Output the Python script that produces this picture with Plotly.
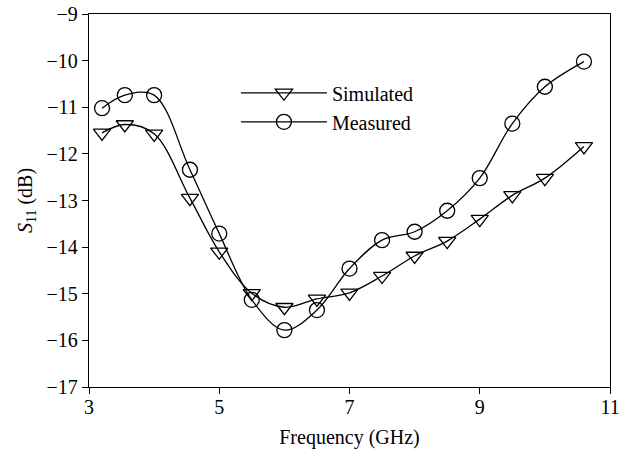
import plotly.graph_objects as go

freq = [3.2, 3.55, 4.0, 4.55, 5.0, 5.5, 6.0, 6.5, 7.0, 7.5, 8.0, 8.5, 9.0, 9.5, 10.0, 10.6]
simulated = [-11.55, -11.37, -11.57, -12.95, -14.1, -14.99, -15.29, -15.11, -14.98,
             -14.62, -14.19, -13.87, -13.4, -12.89, -12.52, -11.84]
measured = [-11.02, -10.74, -10.74, -12.34, -13.71, -15.13, -15.78, -15.35, -14.46,
            -13.85, -13.67, -13.22, -12.52, -11.35, -10.56, -10.02]
x_ticks = [3, 5, 7, 9, 11]
y_ticks = [-17, -16, -15, -14, -13, -12, -11, -10, -9]

FONT = "Liberation Serif"
fig = go.Figure()
fig.add_trace(go.Scatter(
    x=freq, y=simulated, name="Simulated", mode="lines+markers",
    line=dict(color="black", width=1.3, shape="spline"),
    marker=dict(symbol="triangle-down-open", size=15, color="black", line=dict(width=1.3)),
))
fig.add_trace(go.Scatter(
    x=freq, y=measured, name="Measured", mode="lines+markers",
    line=dict(color="black", width=1.3, shape="spline"),
    marker=dict(symbol="circle-open", size=15, color="black", line=dict(width=1.3)),
))

axis_common = dict(showgrid=False, zeroline=False, showline=True, linecolor="black",
                   linewidth=1.3, mirror=True, ticks="outside", ticklen=6, tickwidth=1.2,
                   tickcolor="black", automargin=False,
                   tickfont=dict(family=FONT, size=20, color="black"))
fig.update_xaxes(range=[3, 11], tickvals=x_ticks, ticklabelstandoff=-4,
                 title=dict(text="Frequency (GHz)", font=dict(family=FONT, size=20, color="black"), standoff=12),
                 **axis_common)
fig.update_yaxes(range=[-17, -9], tickvals=y_ticks,
                 ticktext=[f"\u2212{abs(v)}" for v in y_ticks],
                 title=dict(text="<i>S</i><sub>11</sub> (dB)", font=dict(family=FONT, size=20, color="black"), standoff=8),
                 **axis_common)
fig.update_layout(
    width=625, height=450,
    margin=dict(l=89, r=15, t=14, b=63),
    paper_bgcolor="white", plot_bgcolor="white",
    showlegend=True,
    legend=dict(x=0.282, y=0.841, xanchor="left", yanchor="top", bgcolor="rgba(0,0,0,0)",
                font=dict(family=FONT, size=20, color="black"), itemwidth=86, tracegroupgap=0),
)
fig.write_html("out.html")
